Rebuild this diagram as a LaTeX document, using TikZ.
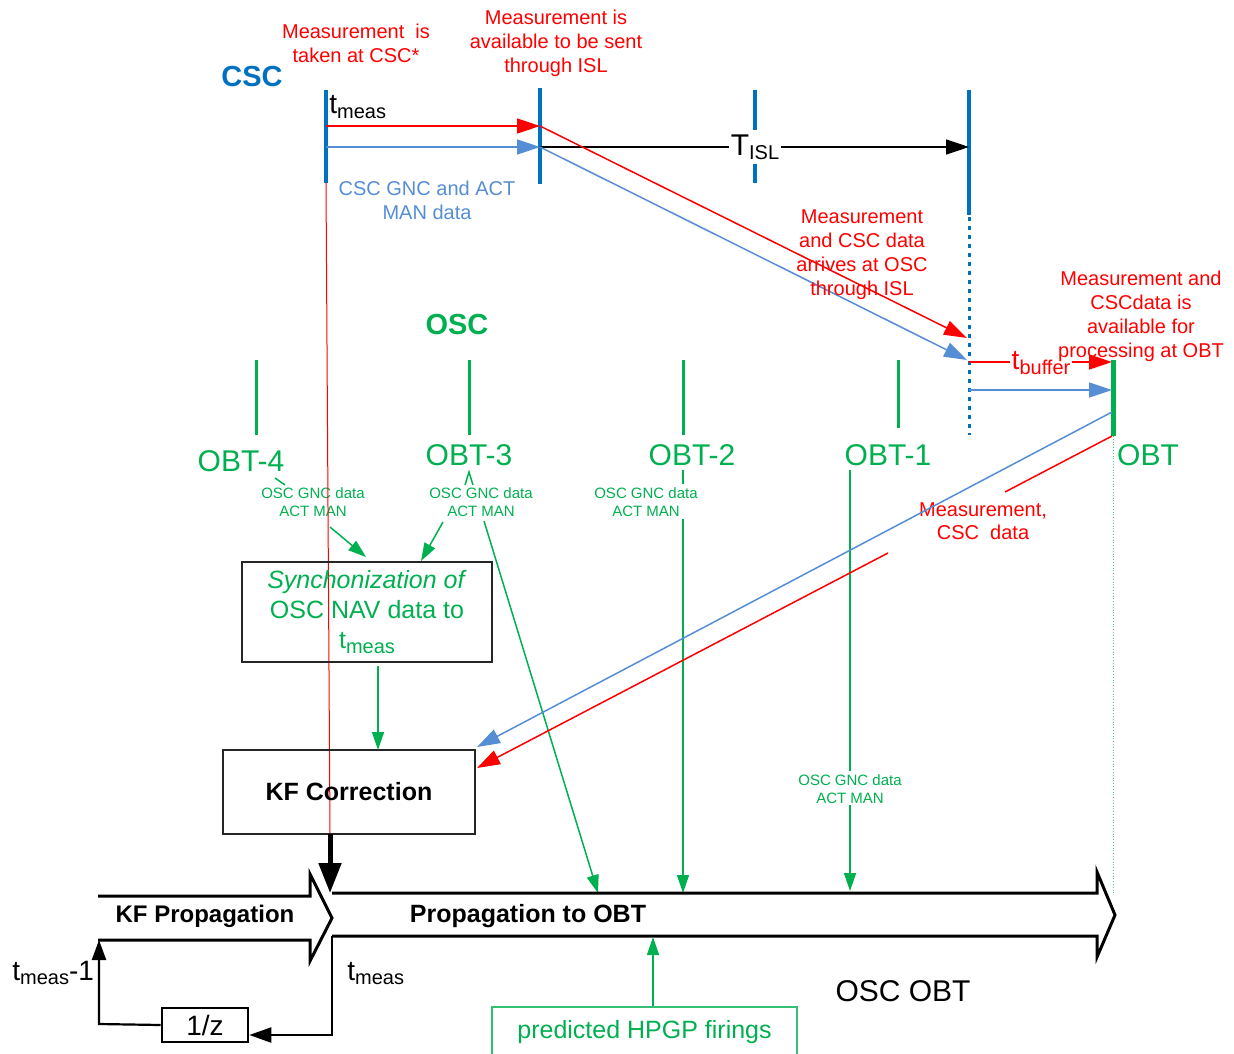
\documentclass[tikz,border=0pt]{standalone}
\usepackage{fontspec}
\setmainfont{Liberation Sans}
\usetikzlibrary{arrows.meta}
\definecolor{cscblue}{HTML}{0070C0}
\definecolor{lblue}{HTML}{558ED5}
\definecolor{ored}{HTML}{FF0000}
\definecolor{ogreen}{HTML}{00B050}
\newcommand{\lowsub}[2][10]{\raisebox{-2.2pt}{\fontsize{#1}{#1}\selectfont #2}}
\tikzset{
  redtxt/.style={text=ored, font=\fontsize{10}{12}\selectfont, align=center, inner sep=0pt},
  gnctxt/.style={text=ogreen, font=\fontsize{7.5}{9}\selectfont, align=center, inner sep=0pt},
  obtlbl/.style={text=ogreen, font=\fontsize{15}{18}\selectfont, inner sep=0pt},
  bigtip/.style={-{Triangle[length=11.5pt,width=7.5pt]}},
  gtip/.style={-{Triangle[length=9pt,width=6pt]}},
  bluetick/.style={cscblue, line width=2pt},
  greentick/.style={ogreen, line width=1.5pt},
  redln/.style={ored, line width=0.75pt},
  blueln/.style={lblue, line width=0.75pt},
  greenln/.style={ogreen, line width=0.75pt},
  boxnode/.style={draw=black!85, line width=0.6pt, align=center, inner sep=0pt},
  bandline/.style={black, line width=1.5pt, line join=miter},
}
\begin{document}
\begin{tikzpicture}[x=0.5pt,y=-0.5pt]
\useasboundingbox (0,0) rectangle (1234,1053);

% ---------- CSC timeline ----------
\node[text=cscblue, font=\fontsize{14.5}{17}\selectfont\bfseries] (csc) at (252,77) {CSC};
\draw[bluetick] (326,90) -- (326,183);
\draw[bluetick] (540,88) -- (540,184);
\draw[bluetick] (755,90) -- (755,183);
\draw[bluetick] (969,90) -- (969,215);
\draw[cscblue, line width=1.5pt, dash pattern=on 2pt off 2.5pt] (969,217) -- (969,435);

\node[redtxt] (mtaken) at (356,43) {Measurement~ is\\taken at CSC*};
\node[redtxt] (mavail) at (556,43) {Measurement is\\available to be sent\\through ISL};
\node[anchor=base west, inner sep=0pt, font=\fontsize{14}{16}\selectfont] (tm1) at (329,114) {t\lowsub{meas}};

\coordinate (r0) at (326,126); \coordinate (r1) at (540,126);
\coordinate (b0) at (326,147); \coordinate (b1) at (540,147);
\coordinate (k1) at (969,147);
\draw[redln, bigtip] (r0) -- (r1);
\draw[blueln, bigtip] (b0) -- (b1);
\draw[black, line width=0.75pt, bigtip] (b1) -- (k1);
\node[fill=white, inner xsep=1pt, inner ysep=0pt, minimum height=17pt, font=\fontsize{15}{18}\selectfont] (tisl) at (755,147) {T\lowsub{ISL}};

\node[text=lblue, font=\fontsize{10}{12}\selectfont, align=center, inner sep=0pt] (cscdata) at (427,200) {CSC GNC and ACT\\MAN data};

% ISL transfer
\coordinate (r2) at (967,338); \coordinate (b2) at (967,360);
\draw[redln, bigtip] (r1) -- (r2);
\draw[blueln, bigtip] (b1) -- (b2);
\node[redtxt] (arrive) at (862,255) {Measurement\\and CSC data\\arrives at OSC\\through ISL};

% buffer
\coordinate (r3) at (969,362); \coordinate (r4) at (1112,362);
\coordinate (b3) at (969,390); \coordinate (b4) at (1112,390);
\draw[redln, bigtip] (r3) -- (r4);
\node[fill=white, inner xsep=1pt, inner ysep=1pt, text=ored, font=\fontsize{14}{16}\selectfont] (tbuf) at (1041,363) {t\lowsub{buffer}};
\draw[blueln, bigtip] (b3) -- (b4);
\node[redtxt] (availobt) at (1141,316) {Measurement and\\CSCdata is\\available for\\processing at OBT};

% ---------- OSC timeline ----------
\node[text=ogreen, font=\fontsize{14.5}{17}\selectfont\bfseries] (osc) at (457,325) {OSC};
\draw[greentick] (256,360) -- (256,435);
\draw[greentick] (469,360) -- (469,435);
\draw[greentick] (683,360) -- (683,435);
\draw[greentick] (898,360) -- (898,428);
\draw[ogreen, line width=2.5pt] (1113,360) -- (1113,436);
\draw[ogreen!70, line width=0.4pt, densely dotted] (1113,436) -- (1113,895);

\node[obtlbl] (obt4) at (241,461) {OBT-4};
\node[obtlbl] (obt3) at (469,455) {OBT-3};
\node[obtlbl] (obt2) at (692,455) {OBT-2};
\node[obtlbl] (obt1) at (888,455) {OBT-1};
\node[obtlbl] (obt)  at (1148,455) {OBT};

\node[gnctxt] (g4) at (313,502) {OSC GNC data\\ACT MAN};
\node[gnctxt] (g3) at (481,502) {OSC GNC data\\ACT MAN};
\node[gnctxt] (g2) at (646,502) {OSC GNC data\\ACT MAN};
\node[gnctxt] (g1) at (850,789) {OSC GNC data\\ACT MAN};

% red measurement line down to KF
\coordinate (rv0) at (326,183); \coordinate (rv1) at (330,834);
\draw[ored, line width=0.5pt] (rv0) -- (rv1);

% boxes
\node[boxnode, minimum width=125pt, minimum height=50pt, text=ogreen, font=\fontsize{12.5}{15}\selectfont] (sync) at (367,612)
  {\textit{Synchonization of}\\OSC NAV data to\\t\lowsub[10]{meas}};
\node[boxnode, minimum width=126pt, minimum height=42pt, font=\fontsize{12.5}{15}\selectfont\bfseries] (kfc) at (349,792) {KF Correction};

% green connectors
\draw[greenln] (275,478) -- (285,485);
\draw[greenln, gtip] (330,527) -- (366,557);
\draw[greenln] (465,485) -- (469,472) -- (473,485);
\draw[greenln, gtip] (443,522) -- (421,561);
\coordinate (p3) at (598,893);
\draw[greenln, gtip] (484,521) -- (p3);
\draw[greenln] (683,470) -- (683,484);
\coordinate (p2) at (683,893);
\draw[greenln, gtip] (683,519) -- (p2);
\draw[greenln] (850,470) -- (850,771);
\coordinate (p1) at (850,891);
\draw[greenln, gtip] (850,805) -- (p1);
\coordinate (sk0) at (378,666); \coordinate (sk1) at (378,750);
\draw[greenln, gtip] (sk0) -- (sk1);

% return lines
\coordinate (br0) at (1112,412); \coordinate (br1) at (477,747);
\coordinate (rr0) at (1112,436); \coordinate (rr1) at (477,768);
\coordinate (rg0) at (1005,492); \coordinate (rg1) at (888,553);
\draw[redln] (rr0) -- (rg0);
\draw[redln, bigtip] (rg1) -- (rr1);
\node[text=ored, font=\fontsize{10}{11.5}\selectfont, align=center, inner sep=0pt] (mcsc) at (983,521) {Measurement,\\CSC~ data};
\draw[blueln, bigtip] (br0) -- (br1);

% thick arrow KF -> propagation
\coordinate (kp) at (330,893);
\draw[black, line width=2.5pt, -{Triangle[length=15pt,width=11pt]}] (rv1) -- (kp);

% KF propagation band
\draw[bandline] (98,896) -- (310,896) -- (310,874) -- (332,918) -- (310,961) -- (310,940) -- (98,940);
\node[font=\fontsize{12}{14}\selectfont\bfseries, inner sep=0pt] (kfp) at (205,916) {KF Propagation};

% Propagation to OBT band
\draw[bandline] (332,893) -- (1097,893) -- (1097,872) -- (1115,915) -- (1097,957) -- (1097,936) -- (332,936);
\node[font=\fontsize{12.5}{15}\selectfont\bfseries, inner sep=0pt] (pobt) at (528,916) {Propagation to OBT};

% feedback loop
\node[draw=black, line width=1.3pt, minimum width=43pt, minimum height=17pt, inner sep=0pt, font=\fontsize{14}{16}\selectfont] (z) at (205,1025) {1/z};
\coordinate (fb0) at (332,936); \coordinate (fb1) at (332,1035);
\draw[black, line width=1.1pt, -{Triangle[length=11pt,width=7.5pt]}] (fb0) -- (fb1) -- (z.east |- fb1);
\coordinate (fu0) at (99,1024); \coordinate (fu1) at (99,940);
\draw[black, line width=1.1pt, -{Triangle[length=10pt,width=7pt]}] (z.west) -- (fu0) -- (fu1);
\node[anchor=base west, inner sep=0pt, font=\fontsize{14}{16}\selectfont] (tm2) at (12,980) {t\lowsub{meas}-1};
\node[anchor=base west, inner sep=0pt, font=\fontsize{14}{16}\selectfont] (tm3) at (347,980) {t\lowsub{meas}};

% HPGP
\node[draw=ogreen!80, line width=0.6pt, minimum width=152.5pt, minimum height=25pt, inner sep=0pt, text=ogreen, font=\fontsize{12.5}{15}\selectfont] (hpgp) at (644.5,1032) {predicted HPGP firings};
\coordinate (hp1) at (653,937);
\draw[greenln, gtip] (hpgp.north -| hp1) -- (hp1);

\node[font=\fontsize{15}{18}\selectfont, inner sep=0pt] (oscobt) at (903,991) {OSC OBT};
\end{tikzpicture}
\end{document}
